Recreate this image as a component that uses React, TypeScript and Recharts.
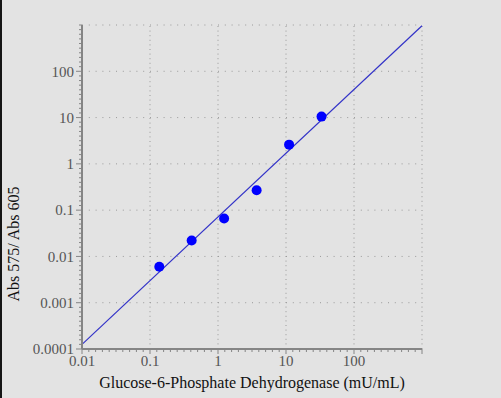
import React from "react";
import {
  ScatterChart,
  Scatter,
  XAxis,
  YAxis,
  ReferenceLine,
} from "recharts";

// major decades on each axis (the last one gets a grid line but no label)
const xMajor = [0.01, 0.1, 1, 10, 100, 1000];
const xLabels = ["0.01", "0.1", "1", "10", "100", ""];
const yMajor = [0.0001, 0.001, 0.01, 0.1, 1, 10, 100, 1000];
const yLabels = ["0.0001", "0.001", "0.01", "0.1", "1", "10", "100", ""];

// measured points
const concentration = [0.137, 0.41, 1.23, 3.7, 11.1, 33.3];
const ratio = [0.006, 0.022, 0.066, 0.27, 2.6, 10.5];

// fitted line end points
const fitX = [0.01, 1000];
const fitY = [0.000126, 966];

const points = concentration.map((x, i) => ({ x, y: ratio[i] }));

// ten small ticks per decade, evenly spaced on the log axis
const minorTicks = (majors: number[]) => {
  const out: number[] = [];
  for (let i = 0; i < majors.length - 1; i++) {
    for (let k = 0; k < 10; k++) out.push(majors[i] * Math.pow(10, k / 10));
  }
  out.push(majors[majors.length - 1]);
  return out;
};

const font = "'Liberation Serif', 'Times New Roman', serif";
const axisGray = "#858585";
const gridGray = "#9a9a9a";

const labelFor = (v: number, majors: number[], labels: string[]) => {
  const i = majors.findIndex((m) => Math.abs(Math.log10(m) - Math.log10(v)) < 1e-6);
  return i;
};

const XTick = (props: any) => {
  const { x, y, payload } = props;
  const i = labelFor(payload.value, xMajor, xLabels);
  const major = i >= 0;
  return (
    <g>
      <line x1={x} x2={x} y1={y} y2={y + (major ? 5 : 3)} stroke={axisGray} strokeWidth={1} />
      {major && xLabels[i] !== "" && (
        <text x={x} y={y + 17} textAnchor="middle" fontFamily={font} fontSize={15} fill="#555">
          {xLabels[i]}
        </text>
      )}
    </g>
  );
};

const YTick = (props: any) => {
  const { x, y, payload } = props;
  const i = labelFor(payload.value, yMajor, yLabels);
  const major = i >= 0 && yLabels[i] !== "";
  return (
    <g>
      <line x1={x} x2={x - (major ? 6 : 3)} y1={y} y2={y} stroke={axisGray} strokeWidth={1} />
      {major && (
        <text x={x - 8} y={y} dy="0.35em" textAnchor="end" fontFamily={font} fontSize={15} fill="#555">
          {yLabels[i]}
        </text>
      )}
    </g>
  );
};

const YTitle = () => (
  <text
    x={13}
    y={244}
    transform="rotate(-90 13 244)"
    textAnchor="middle"
    dy="0.35em"
    fontFamily={font}
    fontSize={16}
    fill="#111"
  >
    Abs 575/ Abs 605
  </text>
);

const XTitle = () => (
  <text x={252} y={388} textAnchor="middle" fontFamily={font} fontSize={16} fill="#111">
    Glucose-6-Phosphate Dehydrogenase (mU/mL)
  </text>
);

const Dot = (props: any) => <circle cx={props.cx} cy={props.cy} r={5} fill="#0000ff" />;

export default function App() {
  return (
    <div
      style={{
        position: "absolute",
        left: 0,
        top: 0,
        width: 501,
        height: 398,
        background: "#e3e3e3",
      }}
    >
      <div style={{ position: "absolute", left: 0, top: 0, width: 2, height: 398, background: "#151515" }} />
      <ScatterChart width={501} height={398} margin={{ top: 25, right: 79, bottom: 0, left: 0 }}>
        <XAxis
          type="number"
          dataKey="x"
          scale="log"
          domain={[0.01, 1000]}
          allowDataOverflow
          ticks={minorTicks(xMajor)}
          interval={0}
          height={49}
          tickSize={0}
          tickMargin={0}
          tickLine={false}
          tick={<XTick />}
          axisLine={{ stroke: axisGray, strokeWidth: 2 }}
          label={<XTitle />}
        />
        <YAxis
          type="number"
          dataKey="y"
          scale="log"
          domain={[0.0001, 1000]}
          allowDataOverflow
          ticks={minorTicks(yMajor)}
          interval={0}
          width={82}
          tickSize={0}
          tickMargin={0}
          tickLine={false}
          tick={<YTick />}
          axisLine={{ stroke: axisGray, strokeWidth: 2 }}
          label={<YTitle />}
        />
        {xMajor.slice(1).map((v) => (
          <ReferenceLine key={"gx" + v} x={v} stroke={gridGray} strokeWidth={1} strokeDasharray="1 3.6" />
        ))}
        {yMajor.slice(1).map((v) => (
          <ReferenceLine key={"gy" + v} y={v} stroke={gridGray} strokeWidth={1} strokeDasharray="1 5.8" />
        ))}
        <ReferenceLine
          segment={[
            { x: fitX[0], y: fitY[0] },
            { x: fitX[1], y: fitY[1] },
          ]}
          stroke="#3333c8"
          strokeWidth={1.2}
        />
        <Scatter data={points} shape={<Dot />} isAnimationActive={false} />
      </ScatterChart>
    </div>
  );
}
